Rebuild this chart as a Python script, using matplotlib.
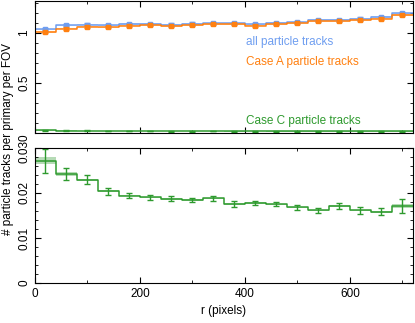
import matplotlib
matplotlib.use("Agg")
import matplotlib.pyplot as plt
import numpy as np
from matplotlib.ticker import MultipleLocator, FixedLocator, FixedFormatter

plt.rcParams['font.family'] = ['Liberation Sans', 'DejaVu Sans']

# radial bins (pixels)
edges = np.arange(0, 760, 40)
centers = edges[:-1] + 20

all_tracks = [1.037, 1.077, 1.083, 1.077, 1.090, 1.090, 1.083, 1.093, 1.097,
              1.097, 1.087, 1.100, 1.107, 1.130, 1.130, 1.143, 1.160, 1.197]
all_err = [0.012] * 18
case_a = [1.010, 1.043, 1.063, 1.057, 1.073, 1.077, 1.070, 1.080, 1.087,
          1.087, 1.073, 1.087, 1.097, 1.117, 1.117, 1.130, 1.143, 1.180]
case_a_err = [0.012] * 18
case_c = [0.0271, 0.0242, 0.0229, 0.0204, 0.0194, 0.0190, 0.0187, 0.0184, 0.0188,
          0.0175, 0.0178, 0.0175, 0.0168, 0.0161, 0.0171, 0.0161, 0.0158, 0.0171]
case_c_err = [0.0026, 0.0014, 0.0010, 0.0008, 0.0006, 0.0006, 0.0006, 0.0005, 0.0006,
              0.0006, 0.0005, 0.0005, 0.0005, 0.0005, 0.0007, 0.0007, 0.0008, 0.0016]

c_blue = '#6f9ef0'
c_orange = '#ff8010'
c_green = '#2e9a2e'


def draw_hist(ax, vals, errs, color, marker=True, band=0.6):
    vals = np.asarray(vals)
    errs = np.asarray(errs)
    v = np.append(vals, vals[-1])
    e = np.append(errs, errs[-1])
    ax.fill_between(edges, v - e * band, v + e * band, step='post',
                    color=color, alpha=0.35, lw=0)
    ax.step(edges, v, where='post', color=color, lw=1.1)
    ax.errorbar(centers, vals, yerr=errs, fmt='s' if marker else 'none',
                ms=3, color=color, ecolor=color, elinewidth=1, capsize=2,
                capthick=1)


fig = plt.figure(figsize=(4.15, 3.23), dpi=100)
ax1 = fig.add_axes([0.0843, 0.588, 0.9107, 0.409])
ax2 = fig.add_axes([0.0843, 0.124, 0.9107, 0.418])

draw_hist(ax1, all_tracks, all_err, c_blue)
draw_hist(ax1, case_a, case_a_err, c_orange)
draw_hist(ax1, case_c, [0.003] * 18, c_green, marker=False)
draw_hist(ax2, case_c, case_c_err, c_green, marker=False, band=0.3)

ax1.text(0.558, 0.69, 'all particle tracks', color=c_blue, fontsize=8.5,
         transform=ax1.transAxes, va='center')
ax1.text(0.558, 0.54, 'Case A particle tracks', color=c_orange, fontsize=8.5,
         transform=ax1.transAxes, va='center')
ax1.text(0.558, 0.09, 'Case C particle tracks', color=c_green, fontsize=8.5,
         transform=ax1.transAxes, va='center')

for ax in (ax1, ax2):
    ax.set_xlim(0, 720)
    ax.xaxis.set_major_locator(MultipleLocator(200))
    ax.xaxis.set_minor_locator(MultipleLocator(100))
    ax.tick_params(which='both', direction='in', top=True, right=True,
                   labelsize=8.5)
    ax.tick_params(which='major', length=4)
    ax.tick_params(which='minor', length=2)

ax1.set_ylim(0, 1.32)
ax1.yaxis.set_major_locator(FixedLocator([0.5, 1.0]))
ax1.yaxis.set_major_formatter(FixedFormatter(['0.5', '1']))
ax1.yaxis.set_minor_locator(MultipleLocator(0.1))
ax1.tick_params(labelbottom=False)

ax2.set_ylim(0, 0.03)
ax2.yaxis.set_major_locator(FixedLocator([0, 0.01, 0.02, 0.03]))
ax2.yaxis.set_major_formatter(FixedFormatter(['0', '0.01', '0.02', '0.030']))
ax2.yaxis.set_minor_locator(MultipleLocator(0.002))
ax2.set_xlabel('r (pixels)', fontsize=8.5)

for ax in (ax1, ax2):
    for lab in ax.get_yticklabels():
        lab.set_rotation(90)
        lab.set_va('center')

fig.text(0.02, 0.571, '# particle tracks per primary per FOV', rotation=90,
         fontsize=8.5, va='center', ha='center')

fig.savefig('out.png', dpi=100)
